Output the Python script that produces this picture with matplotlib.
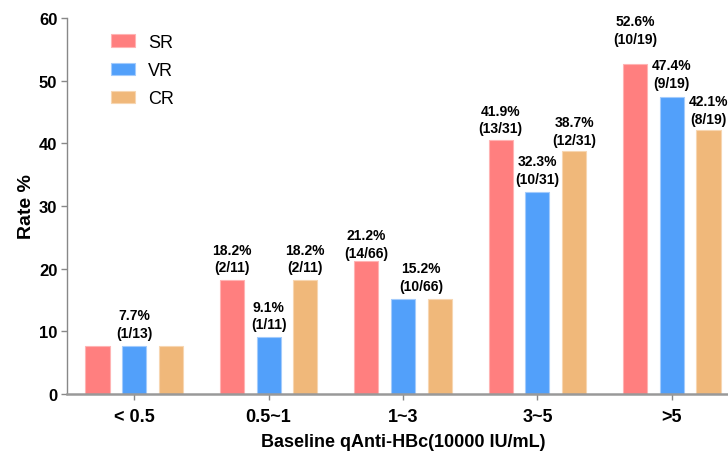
import matplotlib
matplotlib.use("Agg")
import matplotlib.pyplot as plt
import numpy as np

plt.rcParams["font.family"] = ["Liberation Sans", "DejaVu Sans"]

# data
groups = ["< 0.5", "0.5~1", "1~3", "3~5", ">5"]
series = ["SR", "VR", "CR"]
sr_rate = [7.7, 18.2, 21.2, 40.6, 52.6]
vr_rate = [7.7, 9.1, 15.2, 32.3, 47.4]
cr_rate = [7.7, 18.2, 15.2, 38.7, 42.1]

# bar labels: (group, series index or None for between VR and CR, text)
label_group = [0, 1, 1, 1, 2, 2, 3, 3, 3, 4, 4, 4]
label_series = [1, 0, 1, 2, 0, None, 0, 1, 2, 0, 1, 2]
label_text = ["7.7%\n(1/13)", "18.2%\n(2/11)", "9.1%\n(1/11)", "18.2%\n(2/11)",
              "21.2%\n(14/66)", "15.2%\n(10/66)",
              "41.9%\n(13/31)", "32.3%\n(10/31)", "38.7%\n(12/31)",
              "52.6%\n(10/19)", "47.4%\n(9/19)", "42.1%\n(8/19)"]
label_pad = [4, 4, 4, 4, 1, 4, 3, 4, 3, 13, 5, 3]

colors = ["#FF7F7F", "#52A0FA", "#F0B87A"]
edges = ["#FFB3B3", "#A3CBFC", "#F7D6B1"]

fig = plt.figure(figsize=(7.28, 4.56), dpi=100)
ax = fig.add_axes([67 / 728, 61 / 456, 672 / 728, 376 / 456])

x = np.arange(len(groups))
offs = [-0.273, 0.0, 0.273]
w = 0.18
values = [sr_rate, vr_rate, cr_rate]
for i, name in enumerate(series):
    ax.bar(x + offs[i], values[i], width=w, color=colors[i], edgecolor=edges[i],
           linewidth=0.8, label=name)

for g, s, t, p in zip(label_group, label_series, label_text, label_pad):
    if s is None:
        xp = x[g] + (offs[1] + offs[2]) / 2
        yp = max(values[1][g], values[2][g])
    else:
        xp = x[g] + offs[s]
        yp = values[s][g]
    ax.annotate(t, (xp, yp), xytext=(0, p), textcoords="offset points",
                ha="center", va="bottom", fontsize=10, fontweight="bold",
                linespacing=1.35, annotation_clip=False)

ax.set_xlim(-0.5, 4.5)
ax.set_ylim(0, 60)
ax.set_yticks(range(0, 61, 10))
ax.set_xticks(x)
ax.set_xticklabels(groups)
ax.tick_params(axis="y", labelsize=12, length=4, width=1, color="#888888", pad=3)
ax.tick_params(axis="x", labelsize=13, length=4, width=1, color="#888888", pad=6)
for lab in ax.get_xticklabels() + ax.get_yticklabels():
    lab.set_fontweight("bold")

ax.spines["top"].set_visible(False)
ax.spines["right"].set_visible(False)
ax.spines["left"].set_color("#888888")
ax.spines["left"].set_linewidth(1.0)
ax.spines["bottom"].set_color("#999999")
ax.spines["bottom"].set_linewidth(1.8)

ax.set_ylabel("Rate %", fontsize=14, fontweight="bold", labelpad=3)
ax.set_xlabel("Baseline qAnti-HBc(10000 IU/mL)", fontsize=13, fontweight="bold", labelpad=6)

fig.legend(loc="upper left", bbox_to_anchor=(111 / 728, 1 - 35 / 456), frameon=False,
           fontsize=13, borderpad=0, borderaxespad=0, handlelength=1.33,
           handleheight=0.7, handletextpad=0.72, labelspacing=0.62)

fig.savefig("out.png", dpi=100)
